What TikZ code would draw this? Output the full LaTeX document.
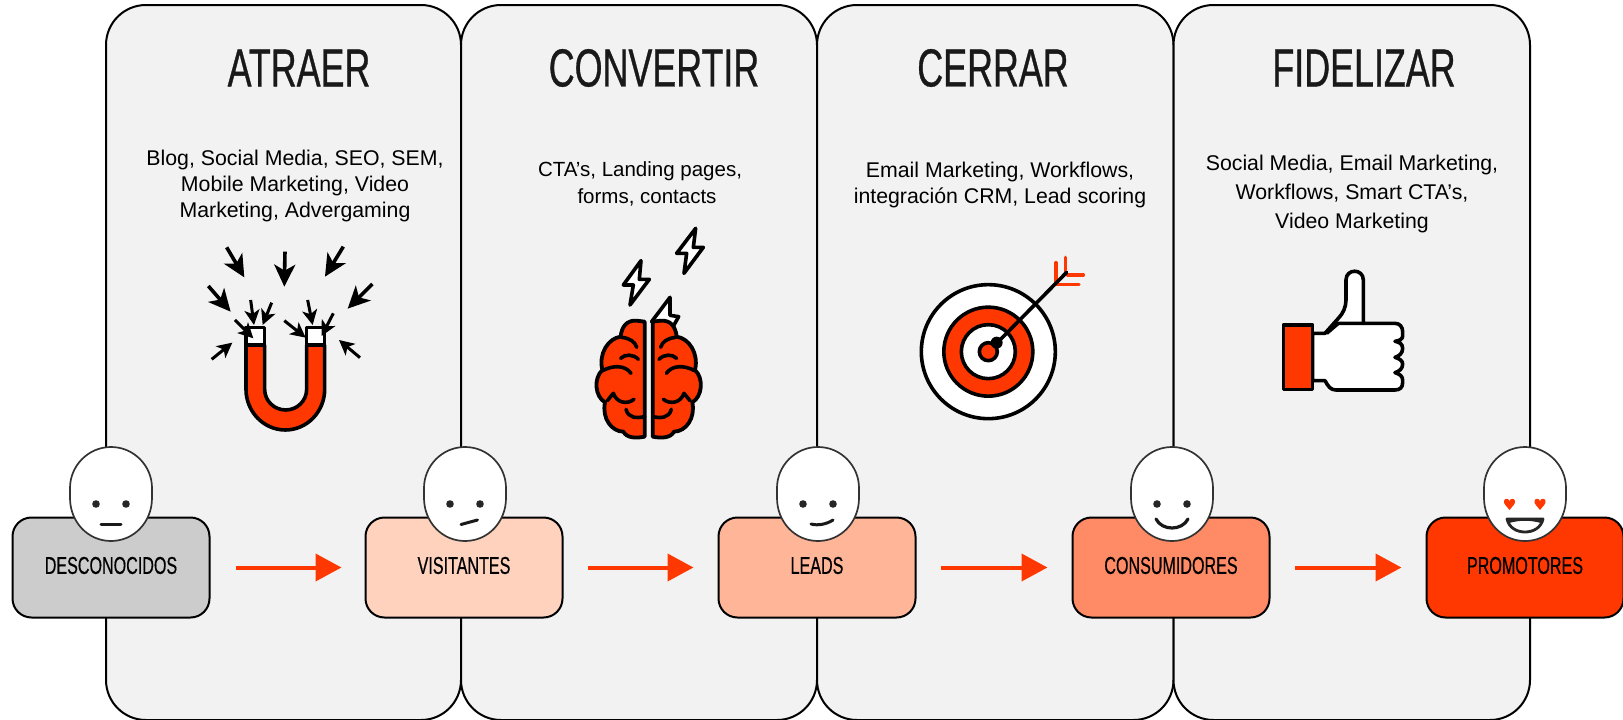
\documentclass[tikz,border=0pt]{standalone}
\usepackage{fontspec}
\setmainfont{Liberation Sans}
\newfontfamily\condfont[FakeStretch=0.67,FakeBold=0.6]{Liberation Sans}
\newfontfamily\labelfont[FakeStretch=0.66,FakeBold=0.5]{Liberation Sans}
\usetikzlibrary{arrows.meta}
\definecolor{hot}{HTML}{FF3700}
\definecolor{panelgray}{HTML}{F2F2F2}
\tikzset{
  panel/.style={draw=black,line width=2pt,fill=panelgray,rounded corners=40pt},
  stagebox/.style={draw=black,line width=2pt,rounded corners=19pt,minimum width=197pt,minimum height=100pt,inner sep=0pt},
  stagelabel/.style={font=\labelfont\fontsize{24.4}{24.4}\selectfont,text=black,anchor=center},
  paneltitle/.style={font=\condfont\fontsize{53.5}{53.5}\selectfont,text=black!90,anchor=center},
  paneltext/.style={font=\fontsize{21.3}{26}\selectfont,align=center,text=black,anchor=center},
  flow/.style={draw=hot,line width=4pt,-{Triangle[length=26pt,width=27pt]}},
  icon/.style={draw=black,line width=3.6pt,line join=round},
  pull/.style={draw=black,line width=3.6pt,-{Stealth[length=22pt,width=21pt,inset=6pt]}},
  pullsmall/.style={draw=black,line width=3pt,-{Stealth[length=15pt,width=15pt,inset=4pt]}},
  facehead/.style={draw=black!80,line width=1.7pt,fill=white},
  faceline/.style={draw=black!90,line width=3pt,line cap=round},
}
\newcommand{\facehead}[1]{%
  \draw[facehead] (#1,447)
    .. controls (#1+23,447) and (#1+41,466) .. (#1+41,488)
    -- (#1+41,498)
    .. controls (#1+41,522) and (#1+23,541) .. (#1,541)
    .. controls (#1-23,541) and (#1-41,522) .. (#1-41,498)
    -- (#1-41,488)
    .. controls (#1-41,466) and (#1-23,447) .. (#1,447) -- cycle;}
\newcommand{\faceeyes}[1]{%
  \fill[black!85] (#1-15,504) circle (3.8pt) (#1+15,504) circle (3.8pt);}
\begin{document}
\begin{tikzpicture}[x=1pt,y=-1pt]
\useasboundingbox (0,0) rectangle (1623,720);
\fill[white] (0,0) rectangle (1623,720);
% panels
\draw[panel] (106,720) -- (106,5) -- (461,5) -- (461,720) -- cycle;
\draw[panel] (461,720) -- (461,5) -- (817,5) -- (817,720) -- cycle;
\draw[panel] (817,720) -- (817,5) -- (1173.5,5) -- (1173.5,720) -- cycle;
\draw[panel] (1173.5,720) -- (1173.5,5) -- (1530,5) -- (1530,720) -- cycle;
% titles
\node[paneltitle] (t1) at (299,68) {ATRAER};
\node[paneltitle] (t2) at (654,68) {CONVERTIR};
\node[paneltitle] (t3) at (993,68) {CERRAR};
\node[paneltitle] (t4) at (1364,68) {FIDELIZAR};
% texts
\node[paneltext] (d1) at (295,185.5) {Blog, Social Media, SEO, SEM,\\Mobile Marketing, Video\\Marketing, Advergaming};
\node[paneltext,font=\fontsize{20.5}{26}\selectfont] (d2a) at (640,171.5) {CTA’s, Landing pages,};
\node[paneltext,font=\fontsize{20.5}{26}\selectfont] (d2b) at (647,197) {forms, contacts};
\node[paneltext] (d3) at (1000,184.5) {Email Marketing, Workflows,\\integración CRM, Lead scoring};
\node[paneltext,font=\fontsize{21.3}{29}\selectfont] (d4) at (1352,194) {Social Media, Email Marketing,\\Workflows, Smart CTA’s,\\Video Marketing};
% magnet
\begin{scope}[shift={(180,230)},x=0.3333pt,y=-0.3333pt]
  \filldraw[icon,fill=hot] (198,345) -- (198,478)
    .. controls (198,545) and (251,600) .. (316,600)
    .. controls (381,600) and (434,545) .. (434,478)
    -- (434,345) -- (380,345) -- (380,478)
    .. controls (380,512) and (352,540) .. (317,540)
    .. controls (282,540) and (254,512) .. (254,478)
    -- (254,345) -- cycle;
  \filldraw[icon,fill=white] (198,292) rectangle (254,345);
  \filldraw[icon,fill=white] (380,292) rectangle (434,345);
  \draw[pull] (140,52) -- (193,142);
  \draw[pull] (315,65) -- (313,170);
  \draw[pull] (490,50) -- (435,140);
  \draw[pull] (85,168) -- (152,245);
  \draw[pull] (577,162) -- (503,236);
  \draw[pullsmall] (212,210) -- (222,285);
  \draw[pullsmall] (275,218) -- (248,285);
  \draw[pullsmall] (165,270) -- (220,325);
  \draw[pullsmall] (313,272) -- (377,323);
  \draw[pullsmall] (383,210) -- (398,285);
  \draw[pullsmall] (460,250) -- (425,318);
  \draw[pullsmall] (95,388) -- (157,338);
  \draw[pullsmall] (540,383) -- (477,330);
\end{scope}
% brain
\begin{scope}[shift={(570,210)},x=0.3333pt,y=-0.3333pt]
  \filldraw[icon,fill=white] (213,152) -- (160,225) -- (190,225) -- (180,285) -- (238,208) -- (208,208) -- cycle;
  \filldraw[icon,fill=white] (377,55) -- (320,130) -- (350,130) -- (342,190) -- (400,112) -- (370,112) -- cycle;
  \filldraw[icon,fill=white] (300,262) -- (245,335) -- (312,345) -- (326,320) -- (300,316) -- cycle;
  \foreach \mx/\off in {1/0,-1/472}{
    \begin{scope}[xshift=\off*0.3333pt,xscale=\mx]
      \filldraw[icon,fill=hot,line width=3.8pt] (224,335) -- (200,332)
        .. controls (170,330) and (155,350) .. (152,380)
        .. controls (115,385) and (85,430) .. (97,480)
        .. controls (70,505) and (75,560) .. (105,577)
        .. controls (95,625) and (125,665) .. (160,665)
        .. controls (170,685) and (200,685) .. (224,680) -- cycle;
      \draw[icon,line cap=round] (155,382) .. controls (180,385) and (195,395) .. (200,412);
      \draw[icon,line cap=round] (152,445) .. controls (165,432) and (190,432) .. (205,448);
      \draw[icon,line cap=round] (98,482) .. controls (130,465) and (165,465) .. (183,490);
      \draw[icon,line cap=round] (112,572) -- (130,550) .. controls (140,578) and (170,585) .. (192,568);
      \draw[icon,line cap=round] (168,598) .. controls (175,625) and (200,625) .. (224,620);
    \end{scope}
  }
\end{scope}
% target
\begin{scope}[shift={(900,240)},x=0.3333pt,y=-0.3333pt]
  \filldraw[icon,fill=white] (265,335) circle (67pt);
  \filldraw[icon,fill=hot] (265,335) circle (44.5pt);
  \filldraw[icon,fill=white] (265,335) circle (27pt);
  \filldraw[icon,fill=hot] (265,335) circle (9pt);
  \draw[draw=hot,line width=3.4pt,line cap=round] (468,68) -- (468,125) (497,52) -- (497,97) (503,105) -- (550,105) (468,133) -- (537,133);
  \draw[icon,line cap=round] (290,310) -- (500,97);
  \fill[black] (290,308) circle (6pt);
\end{scope}
% thumb
\begin{scope}[shift={(1260,250)},x=0.3333pt,y=-0.3333pt]
  \filldraw[icon,fill=white] (158,250) -- (195,250) -- (235,205)
    .. controls (250,190) and (258,170) .. (258,150) -- (258,90)
    .. controls (258,55) and (310,55) .. (310,90)
    -- (310,220) -- (405,220)
    .. controls (420,220) and (428,232) .. (428,245) -- (428,258)
    .. controls (428,268) and (418,272) .. (405,274)
    .. controls (418,276) and (428,282) .. (428,295)
    .. controls (428,310) and (418,318) .. (405,322)
    .. controls (418,326) and (428,332) .. (428,342)
    .. controls (428,356) and (418,364) .. (405,368)
    .. controls (418,372) and (428,378) .. (428,390) -- (428,398)
    .. controls (428,412) and (420,420) .. (405,420)
    -- (228,420) .. controls (212,420) and (205,410) .. (195,392) -- (158,392) -- cycle;
  \draw[icon] (310,220) -- (235,220) -- (200,250);
  \filldraw[icon,fill=hot] (70,225) rectangle (158,418);
\end{scope}
% stages
\definecolor{stagea}{HTML}{CCCCCC}
\definecolor{stageb}{HTML}{FFD2BE}
\definecolor{stagec}{HTML}{FFB598}
\definecolor{staged}{HTML}{FF8A66}
\node[stagebox,fill=stagea] (b1) at (111,567.5) {};
\node[stagebox,fill=stageb] (b2) at (464,567.5) {};
\node[stagebox,fill=stagec] (b3) at (817,567.5) {};
\node[stagebox,fill=staged] (b4) at (1171,567.5) {};
\node[stagebox,fill=hot] (b5) at (1525,567.5) {};
\node[stagelabel] (l1) at (111,565.5) {DESCONOCIDOS};
\node[stagelabel] (l2) at (464,565.5) {VISITANTES};
\node[stagelabel] (l3) at (817,565.5) {LEADS};
\node[stagelabel] (l4) at (1171,565.5) {CONSUMIDORES};
\node[stagelabel] (l5) at (1525,565.5) {PROMOTORES};
\draw[flow,shorten <=25pt,shorten >=23pt] (b1) -- (b2);
\draw[flow,shorten <=24pt,shorten >=24pt] (b2) -- (b3);
\draw[flow,shorten <=24pt,shorten >=24pt] (b3) -- (b4);
\draw[flow,shorten <=24pt,shorten >=24pt] (b4) -- (b5);
% faces
\facehead{111}\faceeyes{111}
\draw[faceline] (101,524) -- (121,524);
\facehead{465}\faceeyes{465}
\draw[faceline] (461,524.5) -- (477.5,520);
\facehead{818}\faceeyes{818}
\draw[faceline] (811,524) .. controls (818,526) and (827,524) .. (833,520);
\facehead{1172}\faceeyes{1172}
\draw[faceline,line width=3.2pt] (1156,519) .. controls (1162,531) and (1182,531) .. (1188,519);
\facehead{1525}
\foreach \hx in {1509.5,1540}{
  \fill[hot] (\hx,510) .. controls (\hx-3,506) and (\hx-6,504) .. (\hx-5.5,501)
    .. controls (\hx-5,498) and (\hx-1,498) .. (\hx,501)
    .. controls (\hx+1,498) and (\hx+5,498) .. (\hx+5.5,501)
    .. controls (\hx+6,504) and (\hx+3,506) .. (\hx,510) -- cycle;
}
\filldraw[draw=black!85,fill=white,line width=2.8pt,line join=round] (1507,519) -- (1543,519) .. controls (1541,528) and (1533,532) .. (1525,532) .. controls (1517,532) and (1509,528) .. (1507,519) -- cycle;
\fill[black!85] (1507,518) -- (1543,518) -- (1541,523) .. controls (1530,520) and (1520,520) .. (1509,523) -- cycle;
\end{tikzpicture}
\end{document}
